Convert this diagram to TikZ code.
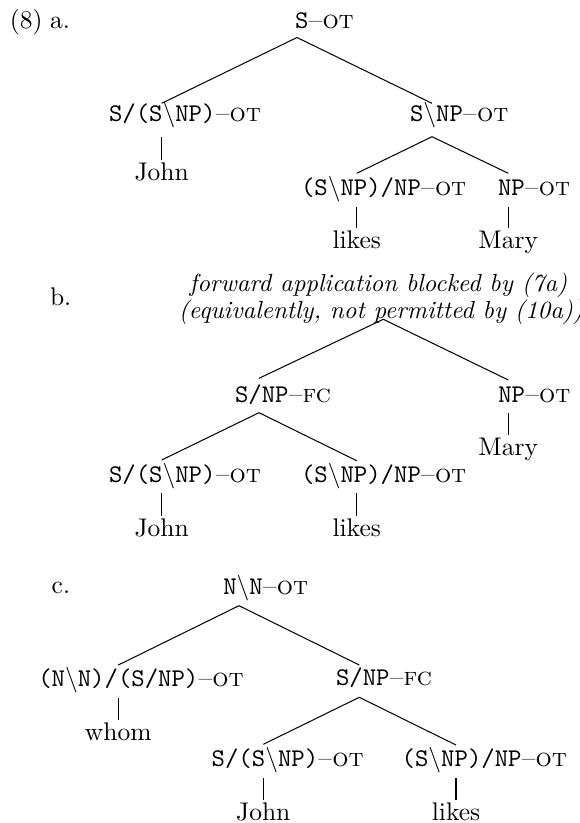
\documentclass[tikz,border=0pt]{standalone}
\newcommand{\bsl}{$\backslash$}
\newcommand{\OTm}{\textsc{--ot}}
\newcommand{\FCm}{\textsc{--fc}}
\begin{document}
\begin{tikzpicture}[x=0.392pt, y=-0.392pt,
  lab/.style={inner sep=0pt, outer sep=0pt, anchor=base west},
  word/.style={inner xsep=0pt, inner ysep=1pt, text height=6.94pt, text depth=0pt, outer sep=0pt, anchor=base},
  note/.style={inner sep=0pt, anchor=base, font=\itshape, scale=0.97, transform shape},
  edge/.style={line width=0.4pt}]
\useasboundingbox (0,0) rectangle (580,823);

% ---------- (8) a. ----------
\node[lab] (ex) at (10,28) {(8)};
\node[lab] (exa) at (50,28) {a.};
\node[lab] (a0) at (295,28) {\texttt{S}\OTm};
\node[lab] (a1) at (109,121) {\texttt{S/(S}\bsl\texttt{NP)}\OTm};
\node[word] (a1w) at (161.7,180) {John};
\node[lab] (a2) at (410,121) {\texttt{S}\bsl\texttt{NP}\OTm};
\node[lab] (a3) at (301,195) {\texttt{(S}\bsl\texttt{NP)/NP}\OTm};
\node[word] (a3w) at (356.7,248) {likes};
\node[lab] (a4) at (498,195) {\texttt{NP}\OTm};
\node[word] (a4w) at (508.3,248) {Mary};

\coordinate (a0b) at (297,37.5);
\coordinate (a1t) at (161.7,103.3);
\coordinate (a1b) at (161.7,136.7);
\coordinate (a2t) at (432,103.3);
\coordinate (a2b) at (432,136.7);
\coordinate (a3t) at (356.7,173.3);
\coordinate (a3b) at (356.7,207);
\coordinate (a4t) at (508.3,173.3);
\coordinate (a4b) at (508.3,207);

\draw[edge] (a1t) -- (a0b) -- (a2t);
\draw[edge] (a3t) -- (a2b) -- (a4t);
\draw[edge] (a1b) -- (a1w.north);
\draw[edge] (a3b) -- (a3w.north);
\draw[edge] (a4b) -- (a4w.north);

% ---------- b. ----------
\node[lab] (exb) at (50,305) {b.};
\node[note] (n1) at (378.5,291) {forward application blocked by (7a)};
\node[note] (n2) at (381,318) {(equivalently, not permitted by (10a))};
\coordinate (bb) at (383.3,319.3);
\node[lab] (b1) at (235,402) {\texttt{S/NP}\FCm};
\node[lab] (b2) at (498.3,402) {\texttt{NP}\OTm};
\node[word] (b2w) at (508.3,455) {Mary};
\node[lab] (b3) at (109,482) {\texttt{S/(S}\bsl\texttt{NP)}\OTm};
\node[word] (b3w) at (161.7,536) {John};
\node[lab] (b4) at (301,482) {\texttt{(S}\bsl\texttt{NP)/NP}\OTm};
\node[word] (b4w) at (356.7,536) {likes};

\coordinate (b1t) at (259,378.3);
\coordinate (b1b) at (259,412.7);
\coordinate (b2t) at (508.3,380);
\coordinate (b2b) at (508.3,413);
\coordinate (b3t) at (161.7,460);
\coordinate (b3b) at (161.7,493.3);
\coordinate (b4t) at (356.7,460.7);
\coordinate (b4b) at (356.7,493.3);

\draw[edge] (b1t) -- (bb) -- (b2t);
\draw[edge] (b3t) -- (b1b) -- (b4t);
\draw[edge] (b2b) -- (b2w.north);
\draw[edge] (b3b) -- (b3w.north);
\draw[edge] (b4b) -- (b4w.north);

% ---------- c. ----------
\node[lab] (exc) at (51.7,593.3) {c.};
\node[lab] (c0) at (223.3,594.3) {\texttt{N}\bsl\texttt{N}\OTm};
\node[lab] (c1) at (38.3,686) {\texttt{(N}\bsl\texttt{N)/(S/NP)}\OTm};
\node[word] (c1w) at (118.3,740) {whom};
\node[lab] (c2) at (336,685) {\texttt{S/NP}\FCm};
\node[lab] (c3) at (211.7,766.7) {\texttt{S/(S}\bsl\texttt{NP)}\OTm};
\node[word] (c3w) at (263.3,820) {John};
\node[lab] (c4) at (401.7,766.7) {\texttt{(S}\bsl\texttt{NP)/NP}\OTm};
\node[word] (c4w) at (456,820) {likes};

\coordinate (c0b) at (239,605.7);
\coordinate (c1t) at (118.3,665);
\coordinate (c1b) at (118.3,698.3);
\coordinate (c2t) at (359.3,665);
\coordinate (c2b) at (359.3,697.3);
\coordinate (c3t) at (263.3,744.3);
\coordinate (c3b) at (263.3,778.3);
\coordinate (c4t) at (456,745);
\coordinate (c4b) at (456,778.3);

\draw[edge] (c1t) -- (c0b) -- (c2t);
\draw[edge] (c3t) -- (c2b) -- (c4t);
\draw[edge] (c1b) -- (c1w.north);
\draw[edge] (c3b) -- (c3w.north);
\draw[edge] (c4b) -- (c4w.north);
\end{tikzpicture}
\end{document}
